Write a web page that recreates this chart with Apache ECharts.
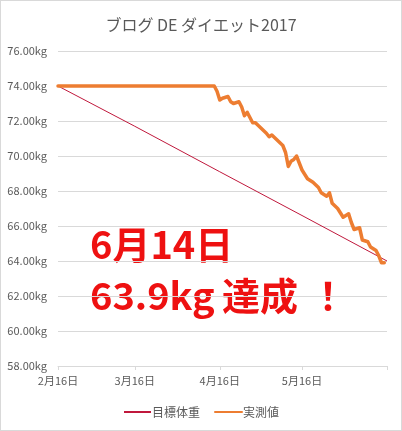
<!DOCTYPE html>
<html><head><meta charset="utf-8">
<script src="https://cdn.jsdelivr.net/npm/echarts@6/dist/echarts.min.js"></script>
<style>
html,body{margin:0;padding:0;background:#fff;}
#wrap{position:relative;width:402px;height:431px;}
#chart{position:absolute;left:0;top:0;width:402px;height:431px;}
#frame{position:absolute;left:0;top:0;width:400px;height:429px;border:1px solid #d9d9d9;pointer-events:none;}
</style></head>
<body>
<div id="wrap"><div id="chart"></div><div id="frame"></div></div>
<script>
const titleText = 'ブログ DE ダイエット2017';
const seriesNames = ['目標体重', '実測値'];
const tickDates = ['2/16', '3/16', '4/16', '5/16'];
const axisEndDate = '6/16';
const yTicks = [58, 60, 62, 64, 66, 68, 70, 72, 74, 76];

const targetDates = ['2/16', '3/16', '4/16', '5/16', '6/16'];
const targetValues = [74.0, 71.7, 69.1, 66.6, 64.0];

const actualDates = ['2/16','4/14','4/15','4/16','4/17','4/19','4/20','4/21','4/23','4/24','4/25','4/26','4/27','4/28','4/29',
  '5/1','5/3','5/4','5/5','5/7','5/9','5/10','5/11','5/12','5/13','5/14','5/16','5/18','5/20','5/22','5/23','5/25','5/26','5/27','5/29','5/31',
  '6/2','6/3','6/4','6/6','6/7','6/9','6/10','6/12','6/13','6/14','6/15'];
const actualValues = [74.0,74.0,73.7,73.2,73.3,73.4,73.1,73.0,73.1,72.8,72.3,72.5,72.2,71.9,71.9,
  71.6,71.3,71.1,71.2,70.9,70.6,70.2,69.4,69.7,69.8,70.0,69.2,68.7,68.5,68.2,67.9,67.7,67.9,67.3,67.0,66.5,
  66.7,66.2,65.8,65.9,65.2,65.1,64.8,64.6,64.3,63.9,63.9];

const noteLine1 = '6月14日';
const noteLine2a = '63.9kg';
const noteLine2b = '達成';
const noteLine2c = '！';

// day offset from the first date (UTC, so no DST effects)
const BASE = Date.UTC(2017, 1, 16);
function day(s) { const p = s.split('/'); return Math.round((Date.UTC(2017, +p[0] - 1, +p[1]) - BASE) / 86400000); }
function dayLabel(n) { const d = new Date(BASE + n * 86400000); return (d.getUTCMonth() + 1) + '月' + d.getUTCDate() + '日'; }
const FONT = '"Noto Sans CJK JP", "Noto Sans", sans-serif';
const RED = '#ee1111';
const TARGET_COLOR = '#C0183C';

const chart = echarts.init(document.getElementById('chart'), null, {renderer: 'canvas'});
chart.setOption({
  animation: false,
  backgroundColor: '#fff',
  textStyle: {fontFamily: FONT},
  title: {
    text: titleText, left: 'center', top: 12,
    textStyle: {fontSize: 16, fontWeight: 'normal', color: '#595959', fontFamily: FONT}
  },
  legend: {
    top: 401, left: 'center', itemWidth: 27, itemHeight: 10, itemGap: 14, icon: 'inherit',
    itemStyle: {opacity: 0},
    textStyle: {fontSize: 12, color: '#595959', fontFamily: FONT, padding: [0, 0, 0, -4]},
    data: seriesNames
  },
  grid: {left: 58, right: 15, top: 51, bottom: 65, containLabel: false},
  xAxis: {
    type: 'value',
    min: day(tickDates[0]), max: day(axisEndDate),
    axisLine: {lineStyle: {color: '#d9d9d9'}},
    axisTick: {show: true, length: 4, lineStyle: {color: '#d9d9d9'},
      customValues: tickDates.concat([axisEndDate]).map(day)},
    axisLabel: {
      customValues: tickDates.map(day),
      color: '#595959', fontSize: 11, margin: 9, fontFamily: FONT,
      formatter: function (v) { return dayLabel(v); }
    },
    splitLine: {show: false}
  },
  yAxis: {
    type: 'value', min: yTicks[0], max: yTicks[yTicks.length - 1], interval: 2,
    axisLine: {show: false}, axisTick: {show: false},
    axisLabel: {color: '#595959', fontSize: 11, margin: 11, fontFamily: FONT,
      formatter: function (v) { return v.toFixed(2) + 'kg'; }},
    splitLine: {lineStyle: {color: '#d9d9d9', width: 1}}
  },
  series: [
    {
      name: seriesNames[0], type: 'line', symbol: 'none', showSymbol: false,
      data: targetDates.map(function (d, i) { return [day(d), targetValues[i]]; }),
      lineStyle: {color: TARGET_COLOR, width: 1}, itemStyle: {color: TARGET_COLOR}
    },
    {
      name: seriesNames[1], type: 'line', symbol: 'none', showSymbol: false,
      data: actualDates.map(function (d, i) { return [day(d), actualValues[i]]; }),
      lineStyle: {color: '#ED7D31', width: 3.5, join: 'round', cap: 'round'}, itemStyle: {color: '#ED7D31'}
    }
  ],
  graphic: [
    {type: 'text', left: 90, top: 226, style: {text: noteLine1, fill: RED, font: 'bold 38px ' + FONT}},
    {type: 'text', left: 90, top: 277, style: {text: noteLine2a, fill: RED, font: 'bold 38px ' + FONT}},
    {type: 'text', left: 222, top: 277, style: {text: noteLine2b, fill: RED, font: 'bold 38px ' + FONT}},
    {type: 'text', left: 309, top: 277, style: {text: noteLine2c, fill: RED, font: 'bold 38px ' + FONT}}
  ]
});
</script>
</body></html>
